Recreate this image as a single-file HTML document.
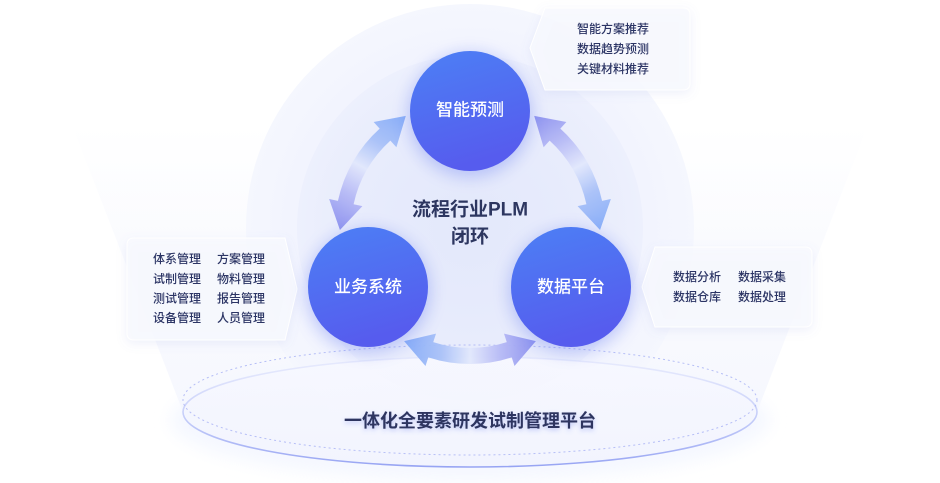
<!DOCTYPE html>
<html>
<head>
<meta charset="utf-8">
<style>
html,body{margin:0;padding:0;background:#ffffff;}
body{width:940px;height:483px;overflow:hidden;}
svg{display:block;}
text{font-family:"Liberation Sans","Noto Sans CJK SC","WenQuanYi Zen Hei",sans-serif;}
</style>
</head>
<body>
<svg width="940" height="483" viewBox="0 0 940 483" xmlns="http://www.w3.org/2000/svg">
  <defs>
    <linearGradient id="cone" x1="0" y1="0" x2="0" y2="1">
      <stop offset="0" stop-color="#eef1fd" stop-opacity="0"/>
      <stop offset="0.4" stop-color="#eef1fd" stop-opacity="0.3"/>
      <stop offset="1" stop-color="#eef1fd" stop-opacity="0.55"/>
    </linearGradient>
    <linearGradient id="coneL" x1="0" y1="0" x2="1" y2="0">
      <stop offset="0" stop-color="#ffffff" stop-opacity="0.4"/>
      <stop offset="1" stop-color="#ffffff" stop-opacity="0"/>
    </linearGradient>
    <radialGradient id="outerDisc" cx="0.5" cy="0.5" r="0.5">
      <stop offset="0" stop-color="#eef1fd"/>
      <stop offset="0.8" stop-color="#f2f4fe"/>
      <stop offset="1" stop-color="#f5f7fe"/>
    </radialGradient>
    <radialGradient id="innerDisc" cx="0.5" cy="0.5" r="0.5">
      <stop offset="0" stop-color="#e3e8fb"/>
      <stop offset="0.7" stop-color="#e8ecfc"/>
      <stop offset="1" stop-color="#edf0fd"/>
    </radialGradient>
    <linearGradient id="circ" x1="0" y1="0" x2="0.3" y2="1">
      <stop offset="0" stop-color="#4c80f5"/>
      <stop offset="1" stop-color="#565cee"/>
    </linearGradient>
    <linearGradient id="arr" x1="0" y1="0" x2="1" y2="0">
      <stop offset="0" stop-color="#86adf8"/>
      <stop offset="0.28" stop-color="#a9c1f8"/>
      <stop offset="0.5" stop-color="#e2e8fc"/>
      <stop offset="0.72" stop-color="#b8bcf6"/>
      <stop offset="1" stop-color="#8c91ef"/>
    </linearGradient>
    <linearGradient id="ellStroke" x1="0" y1="0" x2="0" y2="1">
      <stop offset="0" stop-color="#c9d0fa" stop-opacity="0.3"/>
      <stop offset="0.5" stop-color="#b6c0f7" stop-opacity="0.7"/>
      <stop offset="1" stop-color="#97a4f3"/>
    </linearGradient>
    <linearGradient id="ellFill" x1="0" y1="0" x2="0" y2="1">
      <stop offset="0" stop-color="#f7f8ff" stop-opacity="0.9"/>
      <stop offset="1" stop-color="#f2f4fe" stop-opacity="0.95"/>
    </linearGradient>
    <filter id="blur8" x="-50%" y="-50%" width="200%" height="200%">
      <feGaussianBlur stdDeviation="8"/>
    </filter>
    <filter id="boxsh" x="-20%" y="-30%" width="140%" height="160%">
      <feDropShadow dx="0" dy="3" stdDeviation="5" flood-color="#7a86d8" flood-opacity="0.14"/>
    </filter>
    <filter id="txtsh" x="-20%" y="-50%" width="140%" height="200%">
      <feDropShadow dx="0" dy="2" stdDeviation="2.5" flood-color="#5a6ee8" flood-opacity="0.35"/>
    </filter>
  </defs>

  <!-- side light cones -->
  <polygon points="72,125 300,125 330,430 190,430" fill="url(#cone)"/>
  <polygon points="640,125 868,125 750,430 610,430" fill="url(#cone)"/>

  <!-- glow below ellipse -->
  <ellipse cx="470" cy="420" rx="300" ry="62" fill="#f3f6ff" opacity="0.8" filter="url(#blur8)"/>

  <!-- big discs -->
  <circle cx="470" cy="228" r="224" fill="url(#outerDisc)"/>
  <circle cx="470" cy="228" r="173" fill="url(#innerDisc)"/>

  <!-- platform ellipse -->
  <ellipse cx="470" cy="412" rx="287" ry="55" fill="url(#ellFill)" stroke="url(#ellStroke)" stroke-width="1.6"/>
  <ellipse cx="470" cy="400" rx="287" ry="55" fill="none" stroke="#aab4f4" stroke-width="1" stroke-dasharray="2 3" opacity="0.85"/>

  <!-- boxes -->
  <path d="M545,8 H683 Q690,8 690,15 V83 Q690,90 683,90 H545 L530,48 Z" fill="#f8f9fe" fill-opacity="0.85" stroke="#ffffff" stroke-width="1" filter="url(#boxsh)"/>
  <path d="M134,238 H285 L297,289 L285,340 H134 Q127,340 127,333 V245 Q127,238 134,238 Z" fill="#f8f9fe" fill-opacity="0.85" stroke="#ffffff" stroke-width="1" filter="url(#boxsh)"/>
  <path d="M655,247 H805 Q812,247 812,254 V320 Q812,327 805,327 H655 L642,287 Z" fill="#f8f9fe" fill-opacity="0.85" stroke="#ffffff" stroke-width="1" filter="url(#boxsh)"/>

  <!-- arrows -->
  <g opacity="0.95">
    <path d="M535.87,341.14 L514.50,365.96 L511.72,357.40 A135,135 0 0 1 428.28,357.40 L425.50,365.96 L404.13,341.14 L436.01,333.62 L433.23,342.18 A119,119 0 0 0 506.77,342.18 L503.99,333.62 Z" fill="url(#arr)"/>
    <path d="M535.87,341.14 L514.50,365.96 L511.72,357.40 A135,135 0 0 1 428.28,357.40 L425.50,365.96 L404.13,341.14 L436.01,333.62 L433.23,342.18 A119,119 0 0 0 506.77,342.18 L503.99,333.62 Z" fill="url(#arr)" transform="rotate(120 470 229)"/>
    <path d="M535.87,341.14 L514.50,365.96 L511.72,357.40 A135,135 0 0 1 428.28,357.40 L425.50,365.96 L404.13,341.14 L436.01,333.62 L433.23,342.18 A119,119 0 0 0 506.77,342.18 L503.99,333.62 Z" fill="url(#arr)" transform="rotate(240 470 229)"/>
  </g>

  <!-- circle glows -->
  <circle cx="470" cy="115" r="62" fill="#5d74f2" opacity="0.35" filter="url(#blur8)"/>
  <circle cx="368" cy="291" r="62" fill="#5d74f2" opacity="0.35" filter="url(#blur8)"/>
  <circle cx="571" cy="291" r="62" fill="#5d74f2" opacity="0.35" filter="url(#blur8)"/>

  <!-- circles -->
  <circle cx="470" cy="111" r="60" fill="url(#circ)"/>
  <circle cx="368" cy="287" r="60" fill="url(#circ)"/>
  <circle cx="571" cy="287" r="60" fill="url(#circ)"/>

  <g fill="#ffffff" font-size="17" font-weight="500" text-anchor="middle" dominant-baseline="central">
    <text x="470" y="110">智能预测</text>
    <text x="368" y="287">业务系统</text>
    <text x="571" y="287">数据平台</text>
  </g>

  <!-- center text -->
  <g fill="#2d3660" font-size="19" font-weight="700" text-anchor="middle" dominant-baseline="central">
    <text x="470" y="210">流程行业PLM</text>
    <text x="470" y="237">闭环</text>
  </g>

  <!-- box texts -->
  <g fill="#2c3565" font-size="12" font-weight="500" dominant-baseline="central">
    <text x="577" y="29">智能方案推荐</text>
    <text x="577" y="49">数据趋势预测</text>
    <text x="577" y="69">关键材料推荐</text>

    <text x="153" y="259">体系管理</text>
    <text x="217" y="259">方案管理</text>
    <text x="153" y="279">试制管理</text>
    <text x="217" y="279">物料管理</text>
    <text x="153" y="298.5">测试管理</text>
    <text x="217" y="298.5">报告管理</text>
    <text x="153" y="318">设备管理</text>
    <text x="217" y="318">人员管理</text>

    <text x="673" y="277">数据分析</text>
    <text x="738" y="277">数据采集</text>
    <text x="673" y="297">数据仓库</text>
    <text x="738" y="297">数据处理</text>
  </g>

  <!-- bottom label -->
  <text x="470" y="421" fill="#2d3660" font-size="18" font-weight="700" text-anchor="middle" dominant-baseline="central" filter="url(#txtsh)">一体化全要素研发试制管理平台</text>
</svg>
</body>
</html>
